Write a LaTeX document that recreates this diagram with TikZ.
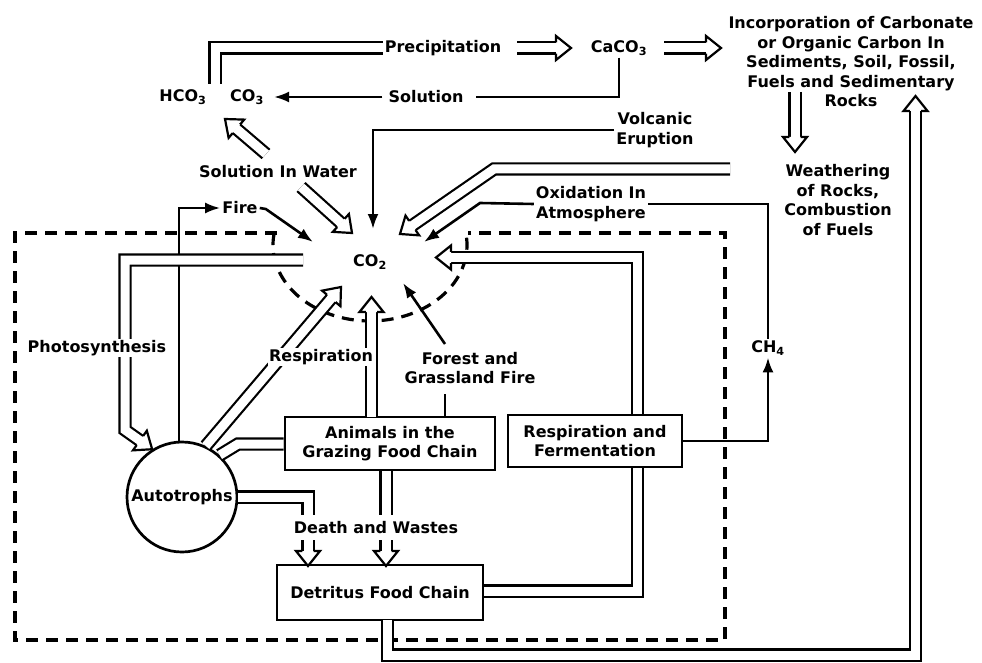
\documentclass[tikz,border=0pt]{standalone}
\usepackage{fontspec}
\setmainfont{DejaVu Sans}
\usetikzlibrary{arrows.meta,calc}
% open (hollow) arrow head for double lines: #1 = point before tip, #2 = tip
\newcommand\ohead[2]{%
  \fill[white] ($(#2)!15pt!(#1)!12pt!90:(#2)$) -- (#2) -- ($(#2)!15pt!(#1)!12pt!-90:(#2)$) -- cycle;
  \draw[line width=2.2pt, line join=miter, line cap=butt]
    ($(#2)!15pt!(#1)!5.6pt!90:(#2)$) -- ($(#2)!15pt!(#1)!12pt!90:(#2)$) -- (#2)
    -- ($(#2)!15pt!(#1)!12pt!-90:(#2)$) -- ($(#2)!15pt!(#1)!5.6pt!-90:(#2)$);}
\begin{document}
\begin{tikzpicture}[x=1pt,y=-1pt,
  every node/.style={font=\fontsize{16}{19.5}\selectfont\bfseries, inner sep=2pt, align=center},
  ln/.style={line width=2.6pt},
  arr/.style={line width=2.6pt, -{Latex[length=15pt,width=11pt]}},
  dbl/.style={double, double distance=9pt, line width=2.2pt},
  dblarr/.style={double, double distance=9pt, line width=2.2pt, shorten >=14.5pt},
  box/.style={draw, line width=2.7pt, fill=white, align=center},
  dashb/.style={line width=3.2pt, dash pattern=on 12pt off 8pt},
  wlbl/.style={fill=white, inner sep=1pt}
  ]
\useasboundingbox (0,0) rectangle (982,663);

% ---------- text nodes ----------
\node (prec) at (443,48) {Precipitation};
\node (caco) at (619,48) {CaCO\textsubscript{3}};
\node (inc) at (851,62) {Incorporation of Carbonate\\or Organic Carbon In\\Sediments, Soil, Fossil,\\Fuels and Sedimentary\\Rocks};
\node (hco) at (183,97) {HCO\textsubscript{3}};
\node (co3) at (247,97) {CO\textsubscript{3}};
\node (sol) at (426,97) {Solution};
\node (siw) at (278,172) {Solution In Water};
\node (volc) at (655,130) {Volcanic\\Eruption};
\node (weath) at (838,200) {Weathering\\of Rocks,\\Combustion\\of Fuels};
\node (oxid) at (591,204) {Oxidation In\\Atmosphere};
\node (fire) at (240,208) {Fire};
\node (co2) at (370,262) {CO\textsubscript{2}};
\node (forest) at (470,368) {Forest and\\Grassland Fire};
\node (ch4) at (768,348) {CH\textsubscript{4}};
\node (death) at (376,528) {Death and Wastes};

% ---------- coordinates ----------
\coordinate (pcend) at (215,84);
\coordinate (pcA) at (517,48);
\coordinate (pcB) at (571,48);
\coordinate (ciA) at (664,48);
\coordinate (ciB) at (721,48);
\coordinate (siwA) at (266,154);
\coordinate (siwB) at (225,119);
\coordinate (siwC) at (301,187);
\coordinate (siwD) at (352,233);
\coordinate (volcEnd) at (373,229);
\coordinate (wA) at (730,169);
\coordinate (wB) at (494,169);
\coordinate (wC) at (400,234);
\coordinate (oxB) at (480,203);
\coordinate (oxC) at (424,242);
\coordinate (fireC) at (313,242);
\coordinate (phA) at (303,260);
\coordinate (phB) at (125,260);
\coordinate (phC) at (125,430);
\coordinate (respT) at (341,287);
\coordinate (anA) at (238,444);
\coordinate (dwA) at (308,515);
\coordinate (dwB) at (308,540);
\coordinate (dwE) at (308,566);
\coordinate (adA) at (386,515);
\coordinate (adB) at (386,540);
\coordinate (adE) at (386,566);
\coordinate (ancA) at (371.5,417);
\coordinate (ancB) at (371.5,297);
\coordinate (fgA) at (445,417);
\coordinate (fgB) at (445,394);
\coordinate (fgC) at (445,344);
\coordinate (fgD) at (403,283);
\coordinate (drA) at (637.5,591);
\coordinate (drB) at (637.5,468);
\coordinate (drC) at (637.5,414);
\coordinate (drD) at (637.5,257.5);
\coordinate (drE) at (436,257.5);
\coordinate (diA) at (387.5,620);
\coordinate (diB) at (387.5,655);
\coordinate (diC) at (915.5,655);
\coordinate (diD) at (915.5,96);
\coordinate (iwA) at (795,92);
\coordinate (iwB) at (795,152);

% ---------- dashed boundaries ----------
\draw[dashb] (277,233) -- (15,233) -- (15,640) -- (725,640) -- (725,233) -- (468,233);
\draw[dashb] (274.2,233.1) arc[start angle=189, end angle=-9, x radius=97, y radius=76];

% ---------- top cycle ----------
\draw[dbl] (prec.west) -| (pcend);
\draw[dblarr] (pcA) -- (pcB); \ohead{pcA}{pcB}
\draw[dblarr] (ciA) -- (ciB); \ohead{ciA}{ciB}
\draw[ln, shorten >=10pt] (caco.south) |- (sol.east);
\draw[arr, shorten <=4pt, shorten >=8pt] (sol.west) -- (co3.east);
\draw[dblarr] (siwA) -- (siwB); \ohead{siwA}{siwB}
\draw[dblarr] (siwC) -- (siwD); \ohead{siwC}{siwD}

% ---------- inputs to CO2 from above ----------
\draw[arr] (volc.west) -| (volcEnd);
\draw[dblarr] (wA) -- (wB) -- (wC); \ohead{wB}{wC}
\draw[ln] (ch4.north) |- (oxid.east);
\draw[arr] (oxid.west) -- (oxB) -- (oxC);
\draw[dblarr] (iwA) -- (iwB); \ohead{iwA}{iwB}

% ---------- autotrophs & boxes ----------
\node[draw, circle, line width=2.7pt, minimum size=110pt, inner sep=0pt] (auto) at (182,497) {Autotrophs};
\node[box, minimum width=210pt, minimum height=53pt] (anim) at (390,443.5) {Animals in the\\Grazing Food Chain};
\node[box, minimum width=174pt, minimum height=52pt] (rf) at (595,441) {Respiration and\\Fermentation};
\node[box, minimum width=206pt, minimum height=55pt] (detr) at (380,592.5) {Detritus Food Chain};

\draw[arr] (auto.93) |- (fire.west);
\draw[arr] (fire.east) -- ++(6,1) -- (fireC);
\draw[dblarr] (phA) -- (phB) -- (phC) -- (auto.122); \ohead{phC}{auto.122}
\draw[dblarr] (auto.65) -- (respT); \ohead{auto.65}{respT}
\draw[dbl] (auto.48) -- (anA) -- (anim.west |- anA);
\draw[dbl] (auto.east) -| (dwA);
\draw[dblarr] (dwB) -- (dwE); \ohead{dwB}{dwE}
\draw[dbl] (adA |- anim.south) -- (adA);
\draw[dblarr] (adB) -- (adE); \ohead{adB}{adE}
\draw[dblarr] (ancA) -- (ancB); \ohead{ancA}{ancB}
\draw[ln] (fgA) -- (fgB);
\draw[arr] (fgC) -- (fgD);
\draw[dbl] (detr.east |- drA) -- (drA) -- (drB);
\draw[dblarr] (drC) -- (drD) -- (drE); \ohead{drD}{drE}
\draw[dblarr] (diA) -- (diB) -- (diC) -- (diD); \ohead{diC}{diD}
\draw[arr] (rf.east) -| (ch4.south);

% ---------- labels over lines ----------
\node[wlbl] (photo) at (97,348) {Photosynthesis};
\node[wlbl] (resp) at (321,357) {Respiration};
\end{tikzpicture}
\end{document}
